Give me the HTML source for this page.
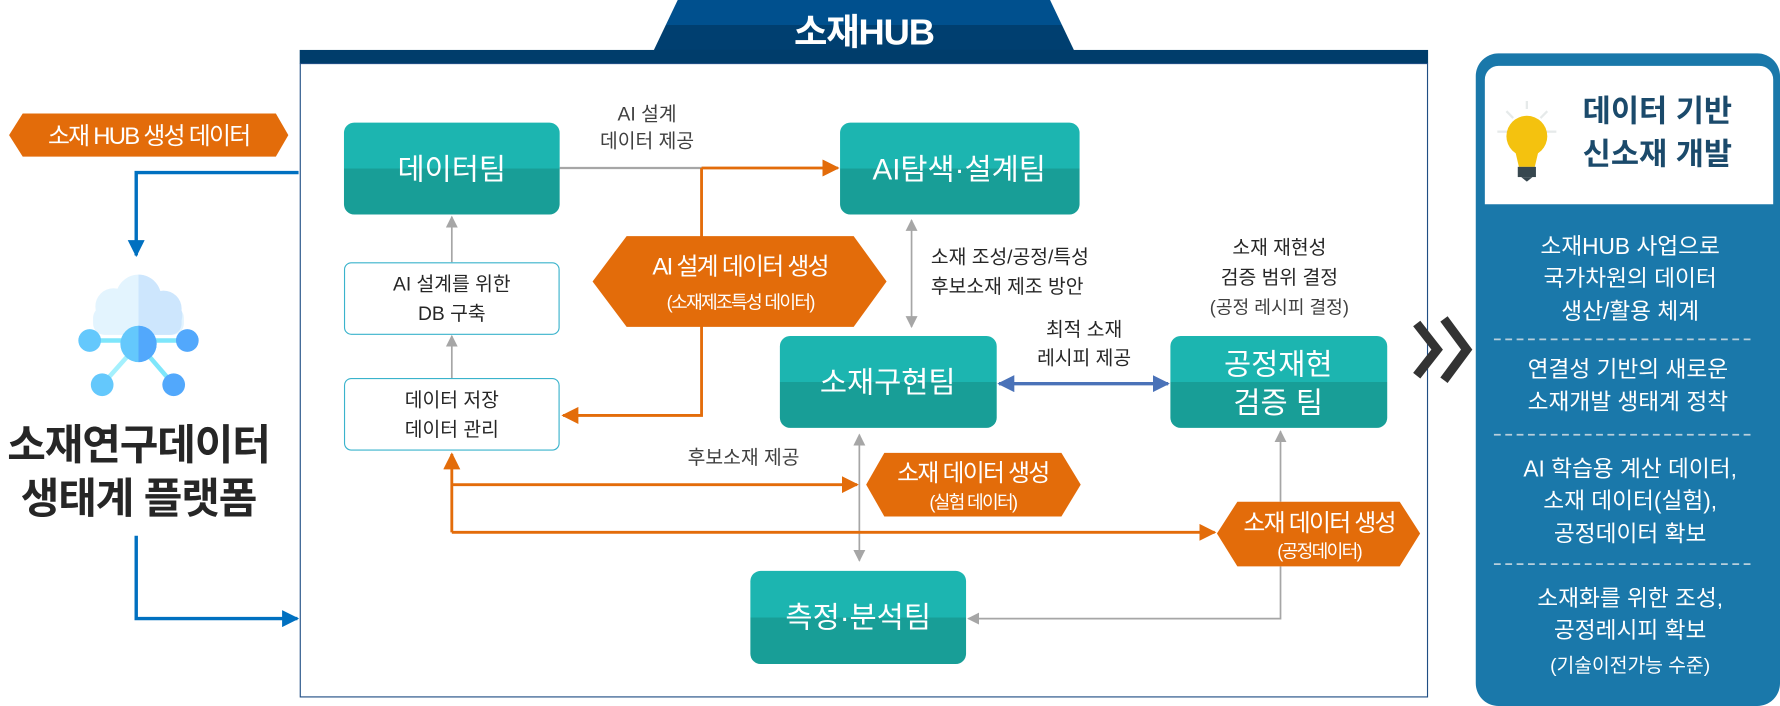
<!DOCTYPE html>
<html><head><meta charset="utf-8"><style>
html,body{margin:0;padding:0;background:#fff;width:1780px;height:706px;overflow:hidden}
svg text{font-family:"Liberation Sans","Noto Sans CJK KR",sans-serif}
</style></head><body>
<svg width="1780" height="706" viewBox="0 0 1568 622" preserveAspectRatio="none" xmlns="http://www.w3.org/2000/svg">
<defs>
<linearGradient id="tl" x1="0" y1="0" x2="0" y2="1">
<stop offset="0" stop-color="#1cb5b0"/><stop offset="0.5" stop-color="#1cb5b0"/><stop offset="0.5" stop-color="#189e97"/><stop offset="1" stop-color="#189e97"/></linearGradient>
<linearGradient id="tab" x1="0" y1="0" x2="0" y2="1">
<stop offset="0" stop-color="#00508e"/><stop offset="0.5" stop-color="#00508e"/><stop offset="0.5" stop-color="#003f70"/><stop offset="1" stop-color="#003f70"/></linearGradient>
<marker id="ag" viewBox="0 0 10 10" refX="9" refY="5" markerWidth="7" markerHeight="7" orient="auto-start-reverse"><path d="M0,0L10,5L0,10z" fill="#a6a6a6"/></marker>
<marker id="ao" viewBox="0 0 10 10" refX="9" refY="5" markerWidth="6" markerHeight="6" orient="auto-start-reverse"><path d="M0,0L10,5L0,10z" fill="#e36c0a"/></marker>
<marker id="ab" viewBox="0 0 10 10" refX="9" refY="5" markerWidth="5" markerHeight="5" orient="auto-start-reverse"><path d="M0,0L10,5L0,10z" fill="#4a72b8"/></marker>
<marker id="abl" viewBox="0 0 10 10" refX="9" refY="5" markerWidth="5" markerHeight="5" orient="auto-start-reverse"><path d="M0,0L10,5L0,10z" fill="#0070c0"/></marker>
</defs>
<!-- title tab -->
<polygon points="576,44 597,0 925,0 946,44" fill="url(#tab)"/>
<text x="761" y="39" font-size="32" fill="#fff" text-anchor="middle" letter-spacing="-1" font-weight="bold">소재HUB</text>
<rect x="264" y="44" width="994" height="12" fill="#003d6b"/>
<rect x="264.5" y="56" width="993" height="558" fill="none" stroke="#1f4e84" stroke-width="1"/>

<!-- left -->
<polygon points="8,119 20,100 243,100 254,119 243,138 20,138" fill="#e36c0a"/>
<text x="131" y="127" font-size="21" fill="#fff" text-anchor="middle" letter-spacing="-1.5">소재 HUB 생성 데이터</text>
<path d="M263,152 H120 V225" stroke="#0070c0" stroke-width="3" fill="none" marker-end="url(#abl)"/>
<path d="M120,472 V545 H262" stroke="#0070c0" stroke-width="3" fill="none" marker-end="url(#abl)"/>
<!-- cloud icon -->
<g>
<circle cx="100" cy="270" r="16" fill="#e3f4fe"/><circle cx="122" cy="262" r="20" fill="#e3f4fe"/><circle cx="144" cy="272" r="16" fill="#cde6fd"/>
<rect x="82" y="270" width="80" height="25" rx="10" fill="#e3f4fe"/>
<path d="M122,242 a20,20 0 0 1 20,20 a16,16 0 0 1 18,20 v3 a10,10 0 0 1 -10,10 h-28z" fill="#cde6fd"/>
<line x1="122" y1="295" x2="122" y2="303" stroke="#7ee6fb" stroke-width="4"/>
<line x1="79" y1="300" x2="165" y2="300" stroke="#7ee6fb" stroke-width="4"/>
<line x1="90" y1="339" x2="122" y2="303" stroke="#a4f0fd" stroke-width="4"/>
<line x1="153" y1="339" x2="122" y2="303" stroke="#7ee6fb" stroke-width="4"/>
<circle cx="79" cy="300" r="10" fill="#64c8fc"/><circle cx="165" cy="300" r="10" fill="#52a8fc"/>
<circle cx="90" cy="339" r="10" fill="#64c8fc"/><circle cx="153" cy="339" r="10" fill="#52a8fc"/>
<circle cx="122" cy="303" r="16" fill="#64c8fc"/><path d="M122,287 a16,16 0 0 1 0,32z" fill="#52a8fc"/>
</g>
<text x="122" y="405" font-size="37" font-weight="bold" fill="#262626" text-anchor="middle" letter-spacing="-1">소재연구데이터</text>
<text x="122" y="452" font-size="37" font-weight="bold" fill="#262626" text-anchor="middle" letter-spacing="-1">생태계 플랫폼</text>

<!-- connectors -->
<line x1="493" y1="148" x2="738" y2="148" stroke="#a6a6a6" stroke-width="2" marker-end="url(#ag)"/>
<text x="570" y="106" font-size="17" fill="#404040" text-anchor="middle">AI 설계</text>
<text x="570" y="130" font-size="17" fill="#404040" text-anchor="middle">데이터 제공</text>
<path d="M618,148 H738" stroke="#e36c0a" stroke-width="2.5" fill="none" marker-end="url(#ao)"/>
<path d="M618,148 V366 H496" stroke="#e36c0a" stroke-width="2.5" fill="none" marker-end="url(#ao)"/>
<line x1="398" y1="231" x2="398" y2="191" stroke="#a6a6a6" stroke-width="1.5" marker-end="url(#ag)"/>
<line x1="398" y1="333" x2="398" y2="296" stroke="#a6a6a6" stroke-width="1.5" marker-end="url(#ag)"/>
<line x1="803" y1="194" x2="803" y2="288" stroke="#a6a6a6" stroke-width="1.5" marker-start="url(#ag)" marker-end="url(#ag)"/>
<text x="820" y="232" font-size="17" fill="#262626">소재 조성/공정/특성</text>
<text x="820" y="258" font-size="17" fill="#262626">후보소재 제조 방안</text>
<line x1="880" y1="338" x2="1029" y2="338" stroke="#4a72b8" stroke-width="3" marker-start="url(#ab)" marker-end="url(#ab)"/>
<text x="955" y="296" font-size="17" fill="#262626" text-anchor="middle">최적 소재</text>
<text x="955" y="321" font-size="17" fill="#262626" text-anchor="middle">레시피 제공</text>
<text x="1127" y="224" font-size="17" fill="#262626" text-anchor="middle">소재 재현성</text>
<text x="1127" y="250" font-size="17" fill="#262626" text-anchor="middle">검증 범위 결정</text>
<text x="1127" y="276" font-size="16" fill="#404040" text-anchor="middle">(공정 레시피 결정)</text>
<line x1="757" y1="383" x2="757" y2="494" stroke="#a6a6a6" stroke-width="1.5" marker-start="url(#ag)" marker-end="url(#ag)"/>
<text x="655" y="409" font-size="17" fill="#404040" text-anchor="middle">후보소재 제공</text>
<path d="M398,469 V400" stroke="#e36c0a" stroke-width="2.5" fill="none" marker-end="url(#ao)"/>
<path d="M398,427 H755" stroke="#e36c0a" stroke-width="2.5" fill="none" marker-end="url(#ao)"/>
<path d="M398,469 H1070" stroke="#e36c0a" stroke-width="2.5" fill="none" marker-end="url(#ao)"/>
<line x1="1128" y1="442" x2="1128" y2="380" stroke="#a6a6a6" stroke-width="1.5" marker-end="url(#ag)"/>
<path d="M1128,499 V545 H853" stroke="#a6a6a6" stroke-width="1.5" fill="none" marker-end="url(#ag)"/>

<!-- orange hexes -->
<polygon points="522,248 552,208 752,208 781,248 752,288 552,288" fill="#e36c0a"/>
<text x="652" y="242" font-size="21" fill="#fff" text-anchor="middle" letter-spacing="-1.5">AI 설계 데이터 생성</text>
<text x="652" y="272" font-size="16" fill="#fff" text-anchor="middle" letter-spacing="-1.5">(소재제조특성 데이터)</text>
<polygon points="763,427 779,399 935,399 952,427 935,455 779,455" fill="#e36c0a"/>
<text x="857" y="424" font-size="21" fill="#fff" text-anchor="middle" letter-spacing="-1.5">소재 데이터 생성</text>
<text x="857" y="448" font-size="16" fill="#fff" text-anchor="middle" letter-spacing="-1.5">(실험 데이터)</text>
<polygon points="1072,470 1090,442 1233,442 1251,470 1233,499 1090,499" fill="#e36c0a"/>
<text x="1162" y="468" font-size="21" fill="#fff" text-anchor="middle" letter-spacing="-1.5">소재 데이터 생성</text>
<text x="1162" y="491" font-size="16" fill="#fff" text-anchor="middle" letter-spacing="-1.5">(공정데이터)</text>

<!-- teal boxes -->
<rect x="303" y="108" width="190" height="81" rx="9" fill="url(#tl)"/>
<text x="398" y="158" font-size="26" fill="#fff" text-anchor="middle">데이터팀</text>
<rect x="740" y="108" width="211" height="81" rx="9" fill="url(#tl)"/>
<text x="845" y="158" font-size="26" fill="#fff" text-anchor="middle">AI탐색·설계팀</text>
<rect x="687" y="296" width="191" height="81" rx="9" fill="url(#tl)"/>
<text x="782" y="346" font-size="26" fill="#fff" text-anchor="middle">소재구현팀</text>
<rect x="1031" y="296" width="191" height="81" rx="9" fill="url(#tl)"/>
<text x="1126" y="330" font-size="26" fill="#fff" text-anchor="middle">공정재현</text>
<text x="1126" y="364" font-size="26" fill="#fff" text-anchor="middle">검증 팀</text>
<rect x="661" y="503" width="190" height="82" rx="9" fill="url(#tl)"/>
<text x="756" y="553" font-size="26" fill="#fff" text-anchor="middle">측정·분석팀</text>

<!-- white boxes -->
<rect x="303.5" y="231.5" width="189" height="63" rx="6" fill="#fff" stroke="#3ab3cc" stroke-width="1"/>
<text x="398" y="256" font-size="17" fill="#262626" text-anchor="middle">AI 설계를 위한</text>
<text x="398" y="282" font-size="17" fill="#262626" text-anchor="middle">DB 구축</text>
<rect x="303.5" y="333.5" width="189" height="63" rx="6" fill="#fff" stroke="#3ab3cc" stroke-width="1"/>
<text x="398" y="358" font-size="17" fill="#262626" text-anchor="middle">데이터 저장</text>
<text x="398" y="384" font-size="17" fill="#262626" text-anchor="middle">데이터 관리</text>

<!-- chevrons -->
<polyline points="1248,285 1266,308 1248,331" fill="none" stroke="#333" stroke-width="8"/>
<polyline points="1272,281 1292,308 1272,335" fill="none" stroke="#333" stroke-width="8"/>

<!-- right panel -->
<rect x="1300" y="47" width="268" height="575" rx="20" fill="#1a78aa"/>
<path d="M1308,180 V70 a12,12 0 0 1 12,-12 H1550 a12,12 0 0 1 12,12 V180z" fill="#fff"/>
<g stroke="#e6eaea" stroke-width="2"><line x1="1345" y1="89" x2="1345" y2="96"/><line x1="1327" y1="98" x2="1333" y2="104"/><line x1="1363" y1="98" x2="1357" y2="104"/><line x1="1319" y1="116" x2="1328" y2="116"/><line x1="1362" y1="116" x2="1371" y2="116"/></g>
<circle cx="1345" cy="120" r="18" fill="#f4c20f"/>
<path d="M1334,130 L1356,130 L1352,147 L1338,147z" fill="#f4c20f"/>
<rect x="1337" y="147" width="16" height="9" fill="#37474f"/>
<path d="M1340,156 h10 l-5,4z" fill="#37474f"/>
<text x="1460" y="107" font-size="27" font-weight="bold" fill="#1b4a6b" text-anchor="middle">데이터 기반</text>
<text x="1460" y="145" font-size="27" font-weight="bold" fill="#1b4a6b" text-anchor="middle">신소재 개발</text>
<g font-size="20" fill="#fff" text-anchor="middle">
<text x="1436" y="224">소재HUB 사업으로</text>
<text x="1436" y="252">국가차원의 데이터</text>
<text x="1436" y="281">생산/활용 체계</text>
<text x="1434" y="332">연결성 기반의 새로운</text>
<text x="1434" y="361">소재개발 생태계 정착</text>
<text x="1436" y="420">AI 학습용 계산 데이터,</text>
<text x="1436" y="448">소재 데이터(실험),</text>
<text x="1436" y="477">공정데이터 확보</text>
<text x="1436" y="534">소재화를 위한 조성,</text>
<text x="1436" y="562">공정레시피 확보</text>
<text x="1436" y="592" font-size="17">(기술이전가능 수준)</text>
</g>
<g stroke="#b8cfdc" stroke-width="1.5" stroke-dasharray="6,4">
<line x1="1316" y1="299" x2="1544" y2="299"/><line x1="1316" y1="383" x2="1544" y2="383"/><line x1="1316" y1="497" x2="1544" y2="497"/></g>
</svg>
</body></html>
